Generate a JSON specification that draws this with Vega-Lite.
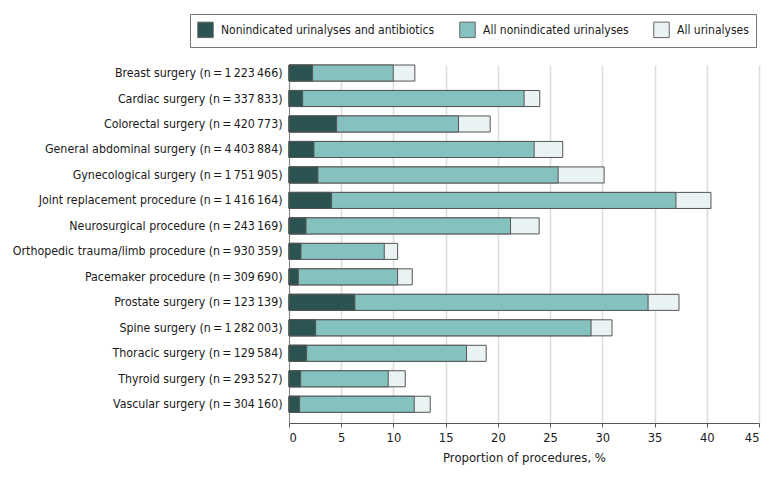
{
  "$schema": "https://vega.github.io/schema/vega-lite/v6.json",
  "width": 470,
  "height": 358,
  "autosize": "none",
  "padding": {"left": 289, "top": 65, "right": 21, "bottom": 54},
  "background": "white",
  "config": {
    "font": "DejaVu Sans Condensed, Liberation Sans, sans-serif",
    "view": {"stroke": null}
  },
  "datasets": {
    "rows": [
      {"surgery": "Breast surgery (n\u2009=\u20091\u2009223\u2009466)", "series": "All urinalyses", "value": 12.05},
      {"surgery": "Cardiac surgery (n\u2009=\u2009337\u2009833)", "series": "All urinalyses", "value": 24.01},
      {"surgery": "Colorectal surgery (n\u2009=\u2009420\u2009773)", "series": "All urinalyses", "value": 19.26},
      {"surgery": "General abdominal surgery (n\u2009=\u20094\u2009403\u2009884)", "series": "All urinalyses", "value": 26.21},
      {"surgery": "Gynecological surgery (n\u2009=\u20091\u2009751\u2009905)", "series": "All urinalyses", "value": 30.17},
      {"surgery": "Joint replacement procedure (n\u2009=\u20091\u2009416\u2009164)", "series": "All urinalyses", "value": 40.4},
      {"surgery": "Neurosurgical procedure (n\u2009=\u2009243\u2009169)", "series": "All urinalyses", "value": 23.95},
      {"surgery": "Orthopedic trauma/limb procedure (n\u2009=\u2009930\u2009359)", "series": "All urinalyses", "value": 10.4},
      {"surgery": "Pacemaker procedure (n\u2009=\u2009309\u2009690)", "series": "All urinalyses", "value": 11.8},
      {"surgery": "Prostate surgery (n\u2009=\u2009123\u2009139)", "series": "All urinalyses", "value": 37.34},
      {"surgery": "Spine surgery (n\u2009=\u20091\u2009282\u2009003)", "series": "All urinalyses", "value": 30.93},
      {"surgery": "Thoracic surgery (n\u2009=\u2009129\u2009584)", "series": "All urinalyses", "value": 18.88},
      {"surgery": "Thyroid surgery (n\u2009=\u2009293\u2009527)", "series": "All urinalyses", "value": 11.13},
      {"surgery": "Vascular surgery (n\u2009=\u2009304\u2009160)", "series": "All urinalyses", "value": 13.52},

      {"surgery": "Breast surgery (n\u2009=\u20091\u2009223\u2009466)", "series": "All nonindicated urinalyses", "value": 9.98},
      {"surgery": "Cardiac surgery (n\u2009=\u2009337\u2009833)", "series": "All nonindicated urinalyses", "value": 22.51},
      {"surgery": "Colorectal surgery (n\u2009=\u2009420\u2009773)", "series": "All nonindicated urinalyses", "value": 16.23},
      {"surgery": "General abdominal surgery (n\u2009=\u20094\u2009403\u2009884)", "series": "All nonindicated urinalyses", "value": 23.47},
      {"surgery": "Gynecological surgery (n\u2009=\u20091\u2009751\u2009905)", "series": "All nonindicated urinalyses", "value": 25.77},
      {"surgery": "Joint replacement procedure (n\u2009=\u20091\u2009416\u2009164)", "series": "All nonindicated urinalyses", "value": 37.05},
      {"surgery": "Neurosurgical procedure (n\u2009=\u2009243\u2009169)", "series": "All nonindicated urinalyses", "value": 21.21},
      {"surgery": "Orthopedic trauma/limb procedure (n\u2009=\u2009930\u2009359)", "series": "All nonindicated urinalyses", "value": 9.12},
      {"surgery": "Pacemaker procedure (n\u2009=\u2009309\u2009690)", "series": "All nonindicated urinalyses", "value": 10.4},
      {"surgery": "Prostate surgery (n\u2009=\u2009123\u2009139)", "series": "All nonindicated urinalyses", "value": 34.38},
      {"surgery": "Spine surgery (n\u2009=\u20091\u2009282\u2009003)", "series": "All nonindicated urinalyses", "value": 28.92},
      {"surgery": "Thoracic surgery (n\u2009=\u2009129\u2009584)", "series": "All nonindicated urinalyses", "value": 17.0},
      {"surgery": "Thyroid surgery (n\u2009=\u2009293\u2009527)", "series": "All nonindicated urinalyses", "value": 9.5},
      {"surgery": "Vascular surgery (n\u2009=\u2009304\u2009160)", "series": "All nonindicated urinalyses", "value": 11.99},

      {"surgery": "Breast surgery (n\u2009=\u20091\u2009223\u2009466)", "series": "Nonindicated urinalyses and antibiotics", "value": 2.26},
      {"surgery": "Cardiac surgery (n\u2009=\u2009337\u2009833)", "series": "Nonindicated urinalyses and antibiotics", "value": 1.31},
      {"surgery": "Colorectal surgery (n\u2009=\u2009420\u2009773)", "series": "Nonindicated urinalyses and antibiotics", "value": 4.56},
      {"surgery": "General abdominal surgery (n\u2009=\u20094\u2009403\u2009884)", "series": "Nonindicated urinalyses and antibiotics", "value": 2.39},
      {"surgery": "Gynecological surgery (n\u2009=\u20091\u2009751\u2009905)", "series": "Nonindicated urinalyses and antibiotics", "value": 2.77},
      {"surgery": "Joint replacement procedure (n\u2009=\u20091\u2009416\u2009164)", "series": "Nonindicated urinalyses and antibiotics", "value": 4.08},
      {"surgery": "Neurosurgical procedure (n\u2009=\u2009243\u2009169)", "series": "Nonindicated urinalyses and antibiotics", "value": 1.63},
      {"surgery": "Orthopedic trauma/limb procedure (n\u2009=\u2009930\u2009359)", "series": "Nonindicated urinalyses and antibiotics", "value": 1.15},
      {"surgery": "Pacemaker procedure (n\u2009=\u2009309\u2009690)", "series": "Nonindicated urinalyses and antibiotics", "value": 0.89},
      {"surgery": "Prostate surgery (n\u2009=\u2009123\u2009139)", "series": "Nonindicated urinalyses and antibiotics", "value": 6.31},
      {"surgery": "Spine surgery (n\u2009=\u20091\u2009282\u2009003)", "series": "Nonindicated urinalyses and antibiotics", "value": 2.55},
      {"surgery": "Thoracic surgery (n\u2009=\u2009129\u2009584)", "series": "Nonindicated urinalyses and antibiotics", "value": 1.69},
      {"surgery": "Thyroid surgery (n\u2009=\u2009293\u2009527)", "series": "Nonindicated urinalyses and antibiotics", "value": 1.12},
      {"surgery": "Vascular surgery (n\u2009=\u2009304\u2009160)", "series": "Nonindicated urinalyses and antibiotics", "value": 1.02}
    ]
  },
  "data": {"name": "rows"},
  "mark": {"type": "bar", "stroke": "#555555", "strokeWidth": 1},
  "encoding": {
    "y": {
      "field": "surgery",
      "type": "nominal",
      "sort": null,
      "scale": {"paddingInner": 0.37, "paddingOuter": 0.21, "align": 0},
      "axis": {
        "title": null,
        "ticks": false,
        "labelFontSize": 12.3,
        "labelColor": "#1a1a1a",
        "labelPadding": 7,
        "labelLimit": 300,
        "domainColor": "#888",
        "domainWidth": 1,
        "grid": false
      }
    },
    "x": {
      "field": "value",
      "type": "quantitative",
      "stack": null,
      "scale": {"domain": [0, 45], "nice": false},
      "axis": {
        "title": "Proportion of procedures,  %",
        "titleFontSize": 13,
        "titleFontWeight": "normal",
        "titleColor": "#1a1a1a",
        "titlePadding": 8,
        "values": [0, 5, 10, 15, 20, 25, 30, 35, 40, 45],
        "labelFontSize": 12.8,
        "labelColor": "#1a1a1a",
        "labelPadding": 4,
        "tickSize": 4,
        "tickColor": "#555",
        "domainColor": "#555",
        "gridColor": "#dcdcdc",
        "gridWidth": 1.5
      }
    },
    "color": {
      "field": "series",
      "type": "nominal",
      "scale": {
        "domain": ["Nonindicated urinalyses and antibiotics", "All nonindicated urinalyses", "All urinalyses"],
        "range": ["#2b5352", "#85c2bf", "#eaf3f3"]
      },
      "legend": {
        "title": null,
        "orient": "none",
        "legendX": -99,
        "legendY": -51,
        "direction": "horizontal",
        "symbolType": "square",
        "symbolSize": 240,
        "symbolStrokeColor": "#666",
        "symbolStrokeWidth": 1,
        "labelFontSize": 12,
        "labelColor": "#1a1a1a",
        "labelLimit": 400,
        "labelOffset": 7,
        "columnPadding": 22,
        "strokeColor": "#777",
        "padding": 7
      }
    },
    "order": {"field": "value", "sort": "descending"}
  }
}
